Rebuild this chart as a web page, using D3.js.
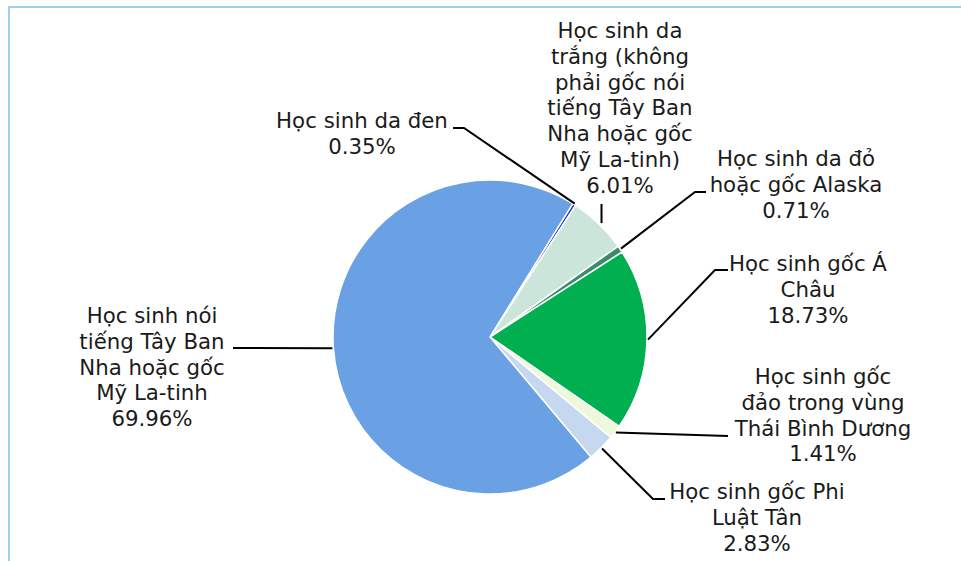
<!doctype html>
<html lang="vi">
<head>
    <meta charset="utf-8"/>
    <title>Học sinh theo chủng tộc</title>
    <script src="https://d3js.org/d3.v7.min.js"></script>
    <style>
        body {
            margin: 0;
            padding: 0;
            background: #fff;
        }
        svg text {
            font-family: 'DejaVu Sans', Verdana, sans-serif;
            font-size: 21.3px;
            fill: #1a1a1a;
        }
    </style>
</head>
<body>
<script>
    // nhãn của từng nhóm (đã ngắt dòng như trong hình)
    const categories = [
        ["Học sinh da đen"],
        ["Học sinh da", "trắng (không", "phải gốc nói", "tiếng Tây Ban", "Nha hoặc gốc", "Mỹ La-tinh)"],
        ["Học sinh da đỏ", "hoặc gốc Alaska"],
        ["Học sinh gốc Á", "Châu"],
        ["Học sinh gốc", "đảo trong vùng", "Thái Bình Dương"],
        ["Học sinh gốc Phi", "Luật Tân"],
        ["Học sinh nói", "tiếng Tây Ban", "Nha hoặc gốc", "Mỹ La-tinh"]
    ]

    // phần trăm
    const values = [0.35, 6.01, 0.71, 18.73, 1.41, 2.83, 69.96]

    const colors = ["#2b3fbf", "#cce5da", "#3c8c6c", "#00b050", "#eef8da", "#c5d8f0", "#6aa0e4"]

    // vị trí nhãn (tâm x, baseline dòng đầu) và điểm gãy của đường dẫn
    const labelPos = [
        {x: 362, y: 128, knee: [453, 128], end: [464, 128]},
        {x: 620, y: 38, knee: null, end: null, up: 204},
        {x: 796, y: 166, knee: [706, 192], end: [695, 192]},
        {x: 808, y: 271, knee: [728, 270], end: [715, 270]},
        {x: 823, y: 384, knee: null, end: [728, 436]},
        {x: 757, y: 499, knee: [665, 499], end: [653, 499]},
        {x: 152, y: 323, knee: null, end: [233, 348]}
    ]

    const width = 961, height = 561
    const cx = 490, cy = 337, radius = 157
    const lineH = 25.8

    const svg = d3.select("body")
        .append("svg")
        .attr("width", width)
        .attr("height", height)

    // khung viền xanh nhạt
    svg.append("path")
        .attr("d", `M9,${height} V7 H${width}`)
        .attr("fill", "none")
        .attr("stroke", "#9dd0f0")
        .attr("stroke-width", 2)

    const start = 31.8 * Math.PI / 180
    const pie = d3.pie().sort(null).startAngle(start).endAngle(start + 2 * Math.PI)
    const arcs = pie(values)

    const arc = d3.arc().innerRadius(0).outerRadius(radius)

    const g = svg.append("g").attr("transform", `translate(${cx},${cy})`)

    g.selectAll("path")
        .data(arcs)
        .enter()
        .append("path")
        .attr("d", arc)
        .attr("fill", (d, i) => colors[i])
        .attr("stroke", "#fff")
        .attr("stroke-width", 1.5)
        .attr("stroke-linejoin", "round")

    // điểm trên mép hình tròn tại góc giữa của lát
    function edgePoint(d) {
        const a = (d.startAngle + d.endAngle) / 2
        return [cx + (radius + 1) * Math.sin(a), cy - (radius + 1) * Math.cos(a)]
    }

    // đường dẫn
    arcs.forEach(function (d, i) {
        const p = labelPos[i]
        const e = edgePoint(d)
        let pts
        if (p.up != null) {
            pts = [[e[0] + 2, e[1]], [e[0] + 2, p.up]]
        } else {
            pts = [e]
            if (p.knee) pts.push(p.end, p.knee)
            else pts.push(p.end)
        }
        svg.append("path")
            .attr("d", d3.line()(pts))
            .attr("fill", "none")
            .attr("stroke", "#000")
            .attr("stroke-width", 2)
    })

    // nhãn
    const fmt = d3.format(".2f")
    arcs.forEach(function (d, i) {
        const p = labelPos[i]
        const lines = categories[i].concat([fmt(values[i]) + "%"])
        const t = svg.append("text")
            .attr("text-anchor", "middle")
        lines.forEach(function (l, j) {
            t.append("tspan")
                .attr("x", p.x)
                .attr("y", p.y + j * lineH)
                .text(l)
        })
    })
</script>
</body>
</html>
